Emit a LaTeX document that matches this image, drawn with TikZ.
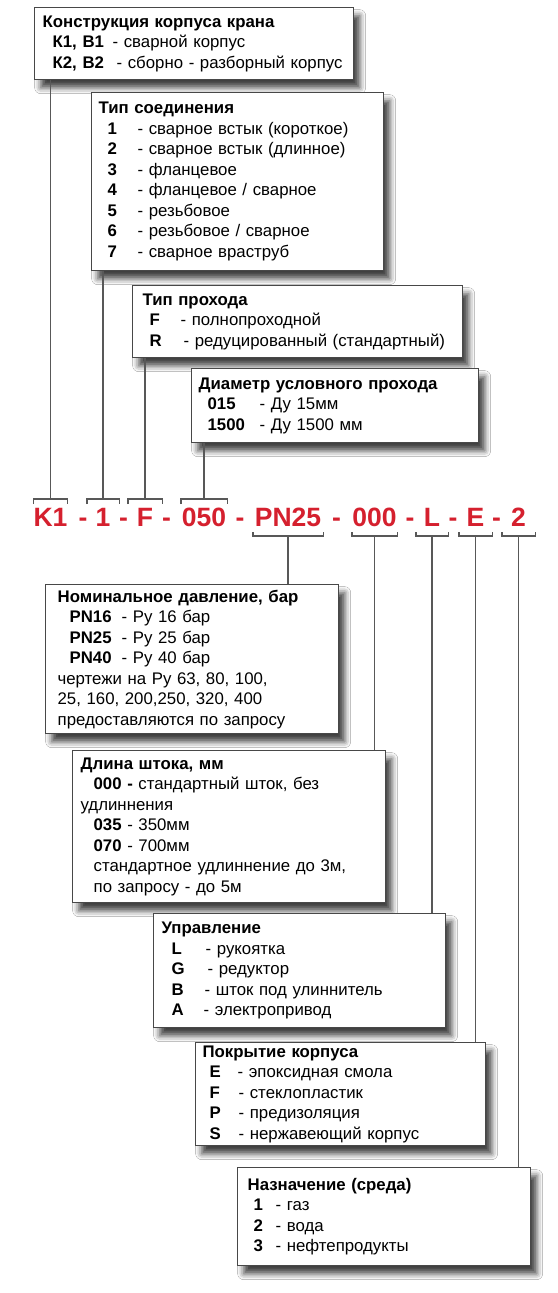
\documentclass[tikz,border=0pt]{standalone}
\usepackage{fontspec}
\setmainfont{Liberation Sans}
\usetikzlibrary{positioning, shadows.blur}

\definecolor{codered}{RGB}{213,32,46}
\definecolor{linkgray}{RGB}{88,88,88}
\definecolor{framegray}{RGB}{72,72,72}

% bold key in a column of fixed width
\newcommand{\keycol}[3]{\hspace*{#1}\makebox[#2][l]{\textbf{#3}}}

\begin{document}
\begin{tikzpicture}[
  x=1pt, y=-1pt,
  infobox/.style={draw=framegray, line width=1.3pt, fill=white,
                  anchor=north west, align=left, inner ysep=0pt,
                  font=\fontsize{16.8pt}{20.5pt}\selectfont,
                  blur shadow={shadow xshift=6pt, shadow yshift=-8pt,
                               shadow blur radius=6pt, shadow opacity=75}},
  code/.style={anchor=base, inner sep=0pt, text=codered,
               font=\fontsize{26.5pt}{30pt}\selectfont\bfseries},
  link/.style={draw=linkgray, line width=1.4pt}
]
\useasboundingbox (0,0) rectangle (557,1293);
\fill[white] (0,0) rectangle (557,1293);

% Upper boxes
\node[infobox, inner xsep=8pt, text width=303pt, minimum width=319pt,
      minimum height=72pt] (body) at (34,7)
  {\textbf{Конструкция корпуса крана}\\
   \keycol{10pt}{60pt}{К1, В1}- сварной корпус\\
   \keycol{10pt}{64pt}{К2, В2}- сборно - разборный корпус};

\node[infobox, inner xsep=7pt, text width=278pt, minimum width=292pt,
      minimum height=178pt] (joint) at (91,92)
  {\textbf{Тип соединения}\\
   \keycol{9pt}{30pt}{1}- сварное встык (короткое)\\
   \keycol{9pt}{30pt}{2}- сварное встык (длинное)\\
   \keycol{9pt}{30pt}{3}- фланцевое\\
   \keycol{9pt}{30pt}{4}- фланцевое / сварное\\
   \keycol{9pt}{30pt}{5}- резьбовое\\
   \keycol{9pt}{30pt}{6}- резьбовое / сварное\\
   \keycol{9pt}{30pt}{7}- сварное враструб};

\node[infobox, inner xsep=10pt, text width=310pt, minimum width=330pt,
      minimum height=72pt] (bore) at (132,285)
  {\textbf{Тип прохода}\\
   \keycol{7pt}{31pt}{F}- полнопроходной\\
   \keycol{7pt}{34pt}{R}- редуцированный (стандартный)};

\node[infobox, inner xsep=7pt, text width=273pt, minimum width=287pt,
      minimum height=74pt] (dn) at (191,368)
  {\textbf{Диаметр условного прохода}\\
   \keycol{9pt}{52pt}{015}- Ду 15мм\\
   \keycol{9pt}{52pt}{1500}- Ду 1500 мм};

% Code
\coordinate (brtop) at (0,499);
\coordinate (brtopt) at (0,504);
\coordinate (brbot) at (0,536);
\coordinate (brbott) at (0,532);

\node[code, minimum width=33pt] (cK) at (50.5,526) {K1};
\node[code, minimum width=32pt] (c1) at (103,526) {1};
\node[code, minimum width=34pt] (cF) at (145,526) {F};
\node[code, minimum width=46pt] (cD) at (204,526) {050};
\node[code, minimum width=70pt] (cP) at (288,526) {PN25};
\node[code, minimum width=45pt] (cS) at (374.5,526) {000};
\node[code, minimum width=32pt] (cL) at (432,526) {L};
\node[code, minimum width=33pt] (cE) at (475.5,526) {E};
\node[code, minimum width=33pt] (c2) at (518.5,526) {2};
\foreach \x [count=\i] in {83,123.5,166.5,240,336.5,410,453,496.5}
  \node[code] (dash\i) at (\x,526) {-};

% Lower boxes
\node[infobox, inner xsep=12pt, text width=269pt, minimum width=293pt,
      minimum height=149pt] (pn) at (45,584)
  {\textbf{Номинальное давление, бар}\\
   \keycol{12pt}{52pt}{PN16}- Ру 16 бар\\
   \keycol{12pt}{52pt}{PN25}- Ру 25 бар\\
   \keycol{12pt}{52pt}{PN40}- Ру 40 бар\\
   чертежи на Ру 63, 80, 100,\\
   25, 160, 200,250, 320, 400\\
   предоставляются по запросу};

\node[infobox, inner xsep=8pt, text width=297pt, minimum width=313pt,
      minimum height=152pt] (stem) at (72,750)
  {\textbf{Длина штока, мм}\\
   \hspace*{13pt}\textbf{000 -} стандартный шток, без\\
   удлиннения\\
   \hspace*{13pt}\textbf{035} - 350мм\\
   \hspace*{13pt}\textbf{070} - 700мм\\
   \hspace*{13pt}стандартное удлиннение до 3м,\\
   \hspace*{13pt}по запросу - до 5м};

\node[infobox, inner xsep=8pt, text width=276pt, minimum width=292pt,
      minimum height=114pt] (ctrl) at (153,913)
  {\textbf{Управление}\\
   \keycol{10pt}{34pt}{L}- рукоятка\\
   \keycol{10pt}{36pt}{G}- редуктор\\
   \keycol{10pt}{33pt}{B}- шток под улиннитель\\
   \keycol{10pt}{32pt}{A}- электропривод};

\node[infobox, inner xsep=7pt, text width=276pt, minimum width=290pt,
      minimum height=103pt] (coat) at (195,1042)
  {\textbf{Покрытие корпуса}\\
   \keycol{7pt}{28pt}{E}- эпоксидная смола\\
   \keycol{7pt}{29pt}{F}- стеклопластик\\
   \keycol{7pt}{29pt}{P}- предизоляция\\
   \keycol{7pt}{29pt}{S}- нержавеющий корпус};

\node[infobox, inner xsep=10pt, text width=273pt, minimum width=293pt,
      minimum height=98pt] (medium) at (237,1167)
  {\textbf{Назначение (среда)}\\
   \keycol{6pt}{22pt}{1}- газ\\
   \keycol{6pt}{22pt}{2}- вода\\
   \keycol{6pt}{22pt}{3}- нефтепродукты};

% Brackets
\foreach \p in {cK,c1,cF,cD}
  \draw[link] (\p.west |- brtopt) |- (\p.north |- brtop) -| (\p.east |- brtopt);
\foreach \p in {cP,cS,cL,cE,c2}
  \draw[link] (\p.west |- brbott) |- (\p.south |- brbot) -| (\p.east |- brbott);

% Links boxes -> code
\draw[link] (body.south -| cK) -- (cK |- brtop);
\draw[link] (joint.south -| c1) -- (c1 |- brtop);
\draw[link] (bore.south -| cF) -- (cF |- brtop);
\draw[link] (dn.south -| cD) -- (cD |- brtop);

% Links code -> boxes
\draw[link] (cP |- brbot) -- (cP |- pn.north);
\draw[link] (cS |- brbot) -- (cS |- stem.north);
\draw[link] (cL |- brbot) -- (cL |- ctrl.north);
\draw[link] (cE |- brbot) -- (cE |- coat.north);
\draw[link] (c2 |- brbot) -- (c2 |- medium.north);
\end{tikzpicture}
\end{document}
